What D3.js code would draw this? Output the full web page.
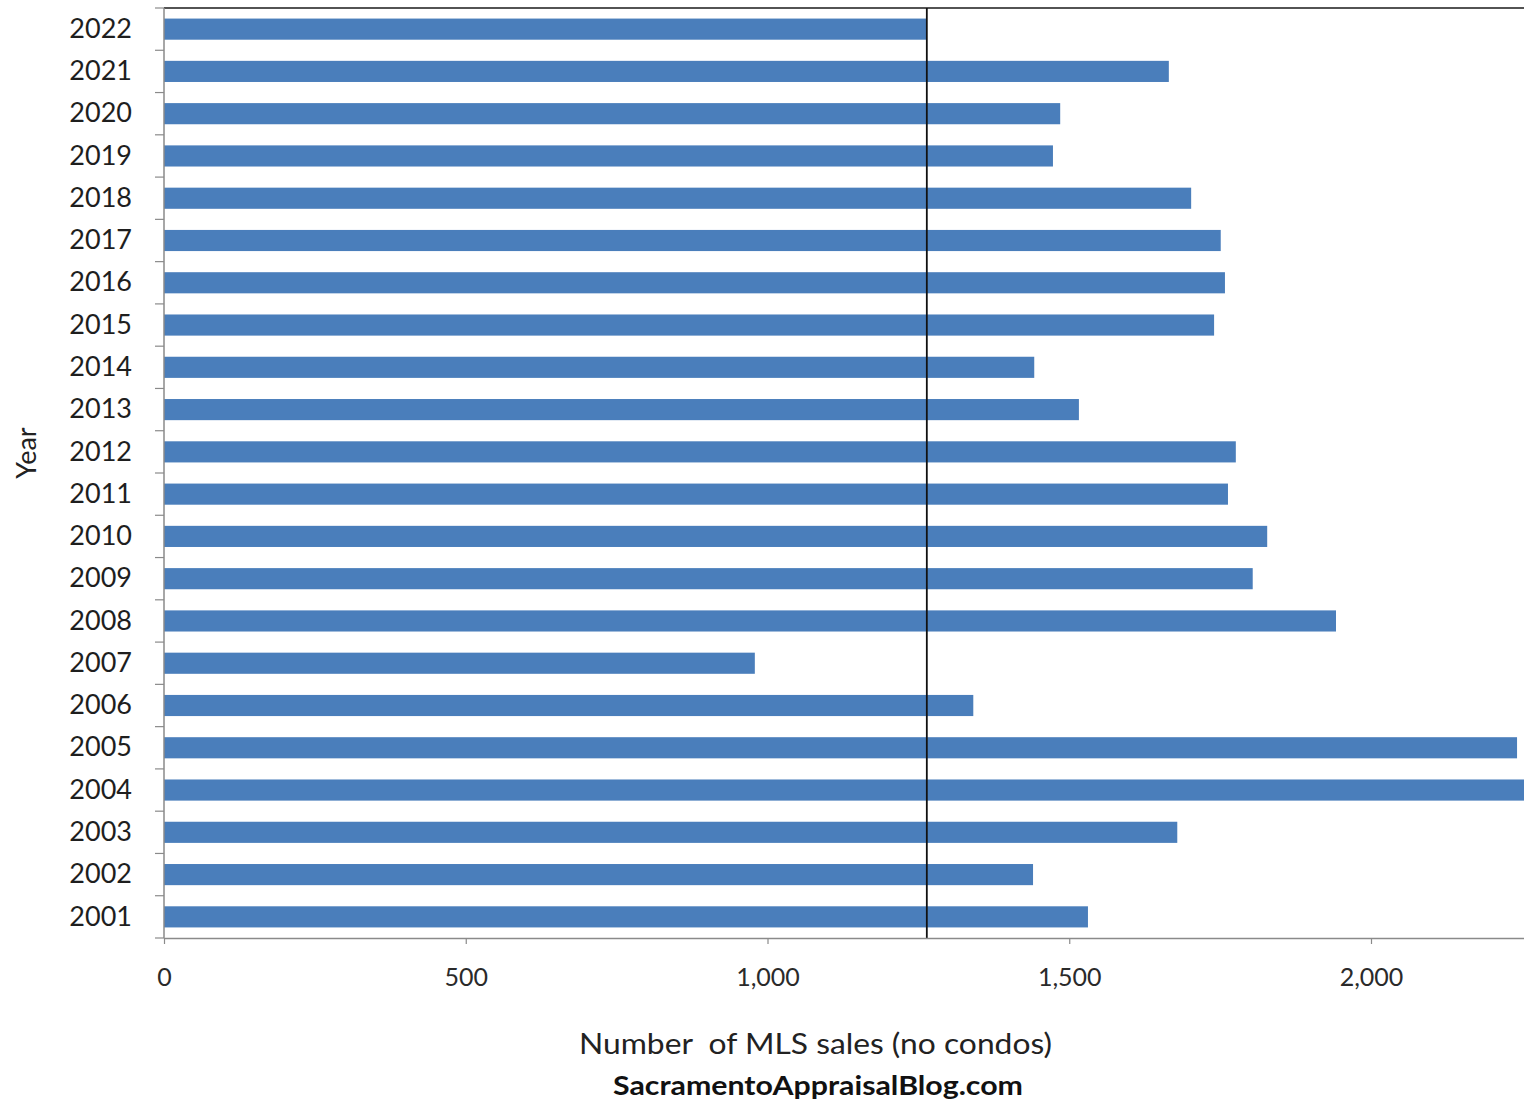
<!DOCTYPE html>
<html>
<head>
<meta charset="utf-8">
<script src="https://cdn.jsdelivr.net/npm/d3@7"></script>
<style>
  html, body { margin: 0; padding: 0; background: #fff; }
  svg { display: block; font-family: Lato, "Open Sans", sans-serif; }
</style>
</head>
<body>
<svg id="chart" width="1524" height="1104"></svg>
<script>
// Annual MLS sales counts (detached homes, no condos)
const years = [2022, 2021, 2020, 2019, 2018, 2017, 2016, 2015, 2014, 2013, 2012,
               2011, 2010, 2009, 2008, 2007, 2006, 2005, 2004, 2003, 2002, 2001];
const sales = [1264, 1665, 1485, 1473, 1702, 1751, 1758, 1740, 1442, 1516, 1776,
               1763, 1828, 1804, 1942, 979, 1341, 2242, 2300, 1679, 1440, 1531];
const xTicks = [0, 500, 1000, 1500, 2000];
const referenceYear = 2022;   // vertical marker at this year's count

const svg = d3.select("#chart");
const plot = { left: 164, top: 8, bottom: 938, right: 1524 };

const x = d3.scaleLinear().domain([0, 2500]).range([plot.left, plot.left + 2500 * 0.6035]);
const y = d3.scaleBand().domain(years).range([plot.top, plot.bottom])
  .paddingInner(0.5).paddingOuter(0.25);

const data = years.map((yr, i) => ({ year: yr, value: sales[i] }));

// clip marks to the visible plot area
svg.append("clipPath").attr("id", "plotClip")
  .append("rect").attr("x", plot.left).attr("y", plot.top)
  .attr("width", plot.right - plot.left).attr("height", plot.bottom - plot.top);

// bars
svg.append("g").attr("clip-path", "url(#plotClip)")
  .selectAll("rect").data(data).join("rect")
  .attr("x", x(0))
  .attr("y", d => y(d.year))
  .attr("width", d => x(d.value) - x(0))
  .attr("height", y.bandwidth())
  .attr("fill", "#4a7ebb");

// top frame line
svg.append("line")
  .attr("x1", plot.left).attr("x2", plot.right)
  .attr("y1", plot.top).attr("y2", plot.top)
  .attr("stroke", "#1a1a1a").attr("stroke-width", 1.6);

// reference line at the latest year's value
const refVal = sales[years.indexOf(referenceYear)];
svg.append("line")
  .attr("x1", x(refVal)).attr("x2", x(refVal))
  .attr("y1", plot.top).attr("y2", plot.bottom)
  .attr("stroke", "#111").attr("stroke-width", 1.8);

// x axis
const xAxis = svg.append("g")
  .attr("transform", `translate(0,${plot.bottom})`)
  .call(d3.axisBottom(x).tickValues(xTicks).tickFormat(d3.format(","))
    .tickSize(6).tickSizeOuter(0).tickPadding(24));
xAxis.select(".domain").attr("stroke", "#8a8a8a").attr("stroke-width", 1.5);
xAxis.selectAll(".tick line").attr("stroke", "#8a8a8a").attr("stroke-width", 1.2);
xAxis.selectAll(".tick text").attr("font-size", 25).attr("fill", "#2a2a2a")
  .attr("font-family", "Lato, sans-serif");

// y axis: labels centred on bands, ticks at band boundaries
const yAxis = svg.append("g")
  .attr("transform", `translate(${plot.left},0)`)
  .call(d3.axisLeft(y).tickSize(0).tickPadding(32));
yAxis.select(".domain").remove();
yAxis.selectAll(".tick text").attr("font-size", 27).attr("fill", "#1e1e1e")
  .attr("font-family", "Lato, sans-serif");

const boundaries = years.map(yr => y(yr) - y.step() * y.paddingInner() / 2)
  .concat([plot.bottom]);
svg.append("g").selectAll("line").data(boundaries).join("line")
  .attr("x1", plot.left - 9).attr("x2", plot.left)
  .attr("y1", d => d).attr("y2", d => d)
  .attr("stroke", "#8a8a8a").attr("stroke-width", 1.2);
svg.append("line")
  .attr("x1", plot.left).attr("x2", plot.left)
  .attr("y1", plot.top).attr("y2", plot.bottom)
  .attr("stroke", "#8a8a8a").attr("stroke-width", 1.5);

// axis titles
svg.append("text")
  .attr("transform", `translate(36,453) rotate(-90)`)
  .attr("text-anchor", "middle")
  .attr("font-size", 27).attr("fill", "#222")
  .text("Year");

svg.append("text")
  .attr("x", 579).attr("y", 1054)
  .attr("font-size", 29.5).attr("fill", "#222")
  .attr("textLength", 473).attr("lengthAdjust", "spacingAndGlyphs")
  .style("white-space", "pre")
  .text("Number  of MLS sales (no condos)");

svg.append("text")
  .attr("x", 613).attr("y", 1095)
  .attr("font-size", 27).attr("font-weight", "bold").attr("fill", "#111")
  .attr("textLength", 410).attr("lengthAdjust", "spacingAndGlyphs")
  .text("SacramentoAppraisalBlog.com");
</script>
</body>
</html>
